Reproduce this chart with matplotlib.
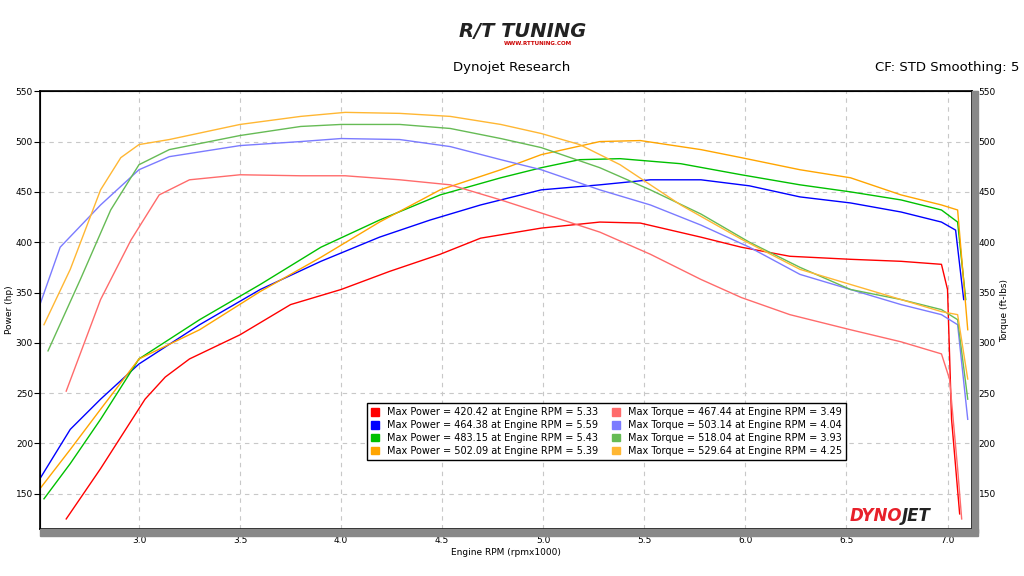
import matplotlib
matplotlib.use("Agg")
import matplotlib.pyplot as plt
from matplotlib.patches import Rectangle

rpm_rp = [2.64,2.81,3.03,3.13,3.25,3.5,3.75,4.0,4.24,4.49,4.69,4.99,5.28,5.48,5.78,5.98,6.22,6.52,6.77,6.97,7.0,7.02,7.06]
red_p  = [125,175,244,266,284,308,338,353,371,388,404,414,420,419,405,395,386,383,381,378,353,224,130]
rpm_rt = [2.64,2.81,2.96,3.1,3.25,3.5,3.8,4.02,4.29,4.54,4.79,4.99,5.28,5.53,5.78,5.98,6.22,6.52,6.77,6.97,7.01,7.05,7.07]
red_t  = [252,343,402,447,462,467,466,466,462,457,442,429,410,388,363,345,328,313,301,289,264,175,125]

rpm_bp = [2.51,2.66,2.81,3.0,3.3,3.6,3.9,4.19,4.44,4.69,4.99,5.28,5.53,5.78,6.02,6.27,6.52,6.77,6.97,7.04,7.08]
blue_p = [165,214,244,279,318,353,381,405,422,437,452,457,462,462,456,445,439,430,420,412,343]
rpm_bt = [2.51,2.61,2.81,3.0,3.15,3.5,3.8,4.0,4.29,4.54,4.79,4.99,5.28,5.53,5.78,6.02,6.27,6.52,6.77,6.97,7.05,7.1]
blue_t = [338,395,437,472,485,496,500,503,502,495,482,472,452,437,417,395,368,353,338,328,318,224]

rpm_gp = [2.53,2.66,2.81,3.0,3.3,3.6,3.9,4.19,4.49,4.79,4.99,5.18,5.38,5.68,5.98,6.27,6.52,6.77,6.97,7.05,7.09]
green_p = [145,180,224,284,323,358,395,422,447,464,474,482,483,478,467,457,450,442,432,420,343]
rpm_gt = [2.55,2.71,2.86,3.0,3.15,3.5,3.8,4.0,4.29,4.54,4.79,4.99,5.28,5.53,5.78,6.02,6.27,6.52,6.77,6.97,7.05,7.1]
green_t = [292,363,432,477,492,506,515,517,517,513,503,494,474,452,428,400,375,353,343,333,323,244]

rpm_op = [2.51,2.66,2.81,3.0,3.3,3.6,3.9,4.19,4.49,4.79,4.99,5.28,5.48,5.78,5.98,6.27,6.52,6.77,6.97,7.05,7.1]
orange_p = [155,194,234,284,313,351,385,420,452,472,487,500,501,492,484,472,464,447,437,432,313]
rpm_ot = [2.53,2.66,2.81,2.91,3.0,3.15,3.5,3.8,4.02,4.29,4.54,4.79,4.99,5.18,5.38,5.68,5.98,6.27,6.52,6.77,6.97,7.05,7.1]
orange_t = [318,373,452,484,497,502,517,525,529,528,525,517,508,497,477,437,403,373,358,343,331,328,264]

labels = ["Max Power = 420.42 at Engine RPM = 5.33", "Max Power = 464.38 at Engine RPM = 5.59",
          "Max Power = 483.15 at Engine RPM = 5.43", "Max Power = 502.09 at Engine RPM = 5.39",
          "Max Torque = 467.44 at Engine RPM = 3.49", "Max Torque = 503.14 at Engine RPM = 4.04",
          "Max Torque = 518.04 at Engine RPM = 3.93", "Max Torque = 529.64 at Engine RPM = 4.25"]
yticks = list(range(150, 551, 50))
xticks = [3.0, 3.5, 4.0, 4.5, 5.0, 5.5, 6.0, 6.5, 7.0]

fig = plt.figure(figsize=(10.24, 5.76), dpi=100)
ax = fig.add_axes([0.039, 0.0816, 0.910, 0.760])
series = [(rpm_rp, red_p, "#ff0000"), (rpm_bp, blue_p, "#0000ff"), (rpm_gp, green_p, "#00c000"),
          (rpm_op, orange_p, "#ffa500"), (rpm_rt, red_t, "#ff6b6b"), (rpm_bt, blue_t, "#7b7bff"),
          (rpm_gt, green_t, "#66bb55"), (rpm_ot, orange_t, "#ffb733")]
handles = []
for (x, y, c), lab in zip(series, labels):
    ax.plot(x, y, color=c, lw=1.0)
    handles.append(Rectangle((0, 0), 1, 1, color=c, label=lab))
ax.set_xlim(2.51, 7.12)
ax.set_ylim(115, 550)
ax.set_xticks(xticks)
ax.set_yticks(yticks)
ax.grid(True, ls=(0, (4, 4)), color="#c8c8c8", lw=0.8)
ax.tick_params(labelsize=6.5, length=4, direction="out", pad=1)
for s in ax.spines.values():
    s.set_linewidth(1.2)
ax.set_xlabel("Engine RPM (rpmx1000)", fontsize=6.5, labelpad=2)
ax.set_ylabel("Power (hp)", fontsize=6.5, labelpad=1)
ax2 = ax.twinx()
ax2.set_ylim(ax.get_ylim()); ax2.set_yticks(yticks)
ax2.tick_params(labelsize=6.5, length=4, direction="out", pad=1)
ax2.set_ylabel("Torque (ft-lbs)", fontsize=6.5, labelpad=3)
fig.patches.append(Rectangle((0.949, 0.074), 0.006, 0.768, color="#888888", transform=fig.transFigure, zorder=0))
fig.patches.append(Rectangle((0.039, 0.070), 0.916, 0.0116, color="#888888", transform=fig.transFigure, zorder=0))
leg = ax.legend(handles=handles, ncol=2, fontsize=7, loc="upper left", bbox_to_anchor=(0.346, 0.298),
                frameon=True, fancybox=False, edgecolor="black", handlelength=0.8, handleheight=0.8,
                labelspacing=0.3, columnspacing=1.5, borderpad=0.4, framealpha=1)
leg.get_frame().set_linewidth(1.0)
fig.text(0.5, 0.877, "Dynojet Research", ha="center", fontsize=9.5)
fig.text(0.995, 0.877, "CF: STD Smoothing: 5", ha="right", fontsize=9.5)
fig.text(0.51, 0.935, "R/T TUNING", ha="center", fontsize=14, fontweight="bold", style="italic", color="#222222")
fig.text(0.525, 0.922, "WWW.RTTUNING.COM", ha="center", fontsize=4, color="#cc0000", fontweight="bold")
t = ax.text(0.925, 0.008, "DYNO", transform=ax.transAxes, ha="right", va="bottom", fontsize=12,
            fontweight="bold", style="italic", color="#e8202a")
ax.text(0.925, 0.008, "JET", transform=ax.transAxes, ha="left", va="bottom", fontsize=12,
        fontweight="bold", style="italic", color="#222222")
fig.savefig("out.png", dpi=100)
